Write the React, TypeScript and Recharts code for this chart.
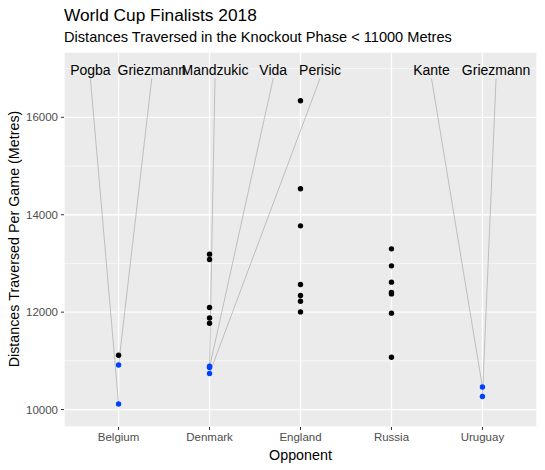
import { ScatterChart, Scatter, XAxis, YAxis, CartesianGrid, ReferenceLine } from 'recharts';

const opponents = ['Belgium', 'Denmark', 'England', 'Russia', 'Uruguay'];

// distances >= 11000 m (black), one list per opponent
const overBelgium = [11116];
const overDenmark = [13191, 13082, 12096, 11882, 11773];
const overEngland = [16341, 14533, 13772, 12568, 12342, 12225, 12005];
const overRussia = [13300, 12951, 12616, 12404, 12375, 11979, 11075];
const overUruguay: number[] = [];

// distances < 11000 m (blue)
const underBelgium = [10916, 10115];
const underDenmark = [10890, 10863, 10740];
const underUruguay = [10464, 10267];

// labelled players
const playerNames = ['Pogba', 'Griezmann', 'Mandzukic', 'Vida', 'Perisic', 'Kante', 'Griezmann'];
const playerOpponent = [0, 0, 1, 1, 1, 4, 4];
const playerDistance = [10115, 10916, 10890, 10863, 10740, 10464, 10267];
const labelX = [-0.31, 0.365, 1.06, 1.7, 2.215, 3.44, 4.15];
const labelY = 16971;
const segmentTop = 16801;

const yTicks = [10000, 12000, 14000, 16000];
const yMinor = [11000, 13000, 15000, 17000];
const xTicks = [0, 1, 2, 3, 4];

const toPoints = (groups: number[][]) =>
  groups.flatMap((vals, i) => vals.map((y) => ({ x: i, y })));

const overData = toPoints([overBelgium, overDenmark, overEngland, overRussia, overUruguay]);
const underData = [
  ...underBelgium.map((y) => ({ x: 0, y })),
  ...underDenmark.map((y) => ({ x: 1, y })),
  ...underUruguay.map((y) => ({ x: 4, y })),
];
const labelData = playerNames.map((name, i) => ({ x: labelX[i], y: labelY, name }));

const FONT = '"Liberation Sans", Arial, Helvetica, sans-serif';

const dot = (fill: string) => (props: any) => (
  <circle cx={props.cx} cy={props.cy} r={2.7} fill={fill} />
);

const labelShape = (props: any) => (
  <text x={props.cx} y={props.cy} dy={5} textAnchor="middle" fontSize={14} fill="#000" fontFamily={FONT}>
    {props.payload.name}
  </text>
);

export default function App() {
  return (
    <div style={{ position: 'relative', width: 545, height: 470, fontFamily: FONT }}>
      <style>{'body{margin:0}'}</style>
      <ScatterChart width={545} height={470} margin={{ top: 52, right: 8, bottom: 0, left: 0 }}>
        <CartesianGrid fill="#ebebeb" stroke="#ffffff" strokeWidth={1.3} />
        <XAxis
          type="number"
          dataKey="x"
          domain={[-0.6, 4.6]}
          ticks={xTicks}
          allowDataOverflow
          tickFormatter={(v: number) => opponents[v]}
          axisLine={false}
          tickSize={3}
          tickMargin={3}
          height={43}
          tick={{ fill: '#4d4d4d', fontSize: 11.5, fontFamily: FONT }}
          tickLine={{ stroke: '#333333' }}
        />
        <YAxis
          type="number"
          dataKey="y"
          domain={[9642, 17341]}
          ticks={yTicks}
          allowDataOverflow
          axisLine={false}
          tickSize={3}
          tickMargin={3}
          width={64}
          tick={{ fill: '#4d4d4d', fontSize: 11.5, fontFamily: FONT }}
          tickLine={{ stroke: '#333333' }}
        />
        {yMinor.map((v) => (
          <ReferenceLine key={v} y={v} stroke="#ffffff" strokeWidth={0.6} />
        ))}
        {playerNames.map((name, i) => (
          <ReferenceLine
            key={name + i}
            segment={[
              { x: labelX[i], y: segmentTop },
              { x: playerOpponent[i], y: playerDistance[i] },
            ]}
            stroke="#b3b3b3"
            strokeWidth={0.8}
          />
        ))}
        <Scatter data={overData} shape={dot('#000000')} isAnimationActive={false} />
        <Scatter data={underData} shape={dot('#0040ff')} isAnimationActive={false} />
        <Scatter data={labelData} shape={labelShape} isAnimationActive={false} />
      </ScatterChart>
      <svg width={545} height={470} style={{ position: 'absolute', left: 0, top: 0, pointerEvents: 'none' }}>
        <text x={64} y={21} fontSize={17.3} fill="#000" fontFamily={FONT}>
          World Cup Finalists 2018
        </text>
        <text x={64} y={42} fontSize={14.6} fill="#000" fontFamily={FONT}>
          Distances Traversed in the Knockout Phase &lt; 11000 Metres
        </text>
        <text x={300.5} y={460} fontSize={14.3} fill="#000" textAnchor="middle" fontFamily={FONT}>
          Opponent
        </text>
        <text
          x={19}
          y={239}
          fontSize={14.3}
          fill="#000"
          textAnchor="middle"
          fontFamily={FONT}
          transform="rotate(-90 19 239)"
        >
          Distances Traversed Per Game (Metres)
        </text>
      </svg>
    </div>
  );
}
